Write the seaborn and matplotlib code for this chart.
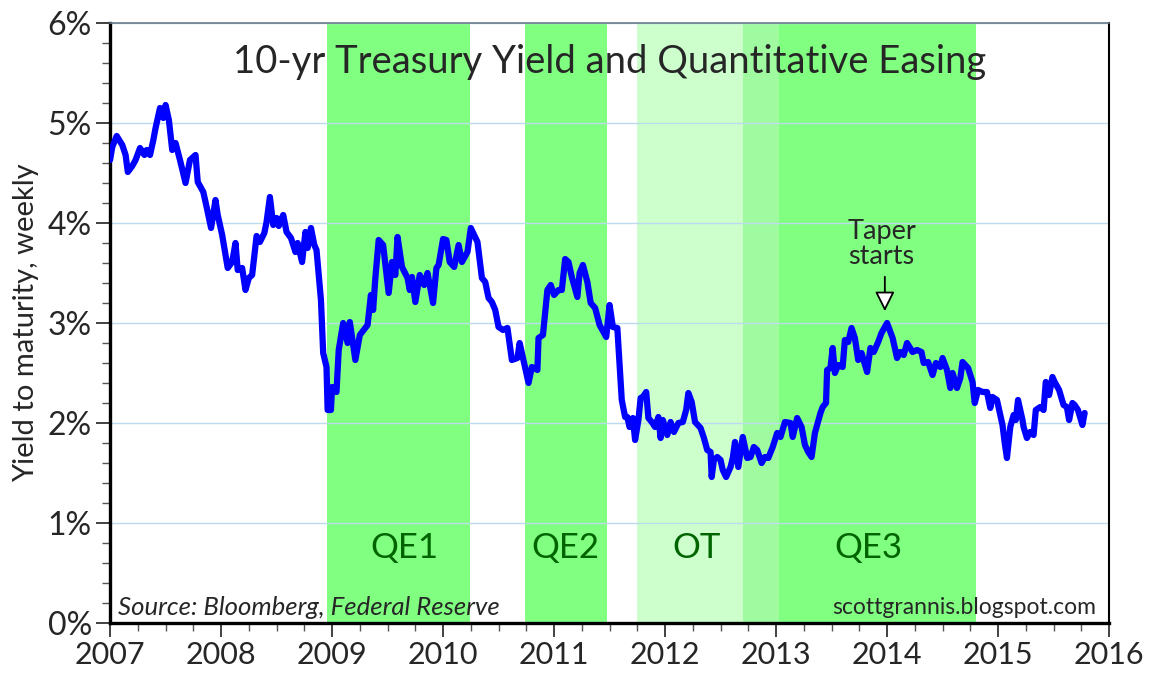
import numpy as np
import pandas as pd
import matplotlib
matplotlib.use("Agg")
import matplotlib.pyplot as plt
import seaborn as sns
from matplotlib.ticker import MultipleLocator, FuncFormatter

# weekly 10-yr yield (decimal year, %)
years = [
    2007.00, 2007.02, 2007.06, 2007.11, 2007.14, 2007.16, 2007.20, 2007.23, 2007.27, 2007.31,
    2007.33, 2007.36, 2007.39, 2007.41, 2007.45, 2007.48, 2007.50, 2007.53, 2007.56, 2007.59,
    2007.63, 2007.68, 2007.72, 2007.77, 2007.79, 2007.84, 2007.87, 2007.91, 2007.95, 2007.97,
    2008.01, 2008.06, 2008.10, 2008.13, 2008.15, 2008.19, 2008.22, 2008.25, 2008.28, 2008.32,
    2008.35, 2008.39, 2008.41, 2008.44, 2008.47, 2008.50, 2008.52, 2008.56, 2008.59, 2008.63,
    2008.67, 2008.69, 2008.73, 2008.76, 2008.78, 2008.81, 2008.84, 2008.86, 2008.90, 2008.92,
    2008.95, 2008.96, 2008.99, 2009.00, 2009.04, 2009.06, 2009.10, 2009.14, 2009.16, 2009.21,
    2009.25, 2009.32, 2009.35, 2009.37, 2009.39, 2009.42, 2009.46, 2009.51, 2009.54, 2009.57,
    2009.59, 2009.63, 2009.68, 2009.70, 2009.72, 2009.75, 2009.79, 2009.83, 2009.86, 2009.91,
    2009.94, 2009.96, 2010.00, 2010.03, 2010.06, 2010.10, 2010.14, 2010.17, 2010.22, 2010.25,
    2010.31, 2010.35, 2010.38, 2010.41, 2010.44, 2010.47, 2010.50, 2010.54, 2010.58, 2010.62,
    2010.67, 2010.69, 2010.73, 2010.77, 2010.80, 2010.85, 2010.86, 2010.90, 2010.94, 2010.97,
    2011.00, 2011.04, 2011.07, 2011.10, 2011.13, 2011.16, 2011.21, 2011.23, 2011.26, 2011.30,
    2011.33, 2011.37, 2011.41, 2011.47, 2011.50, 2011.53, 2011.57, 2011.61, 2011.64, 2011.66,
    2011.68, 2011.71, 2011.73, 2011.76, 2011.78, 2011.80, 2011.83, 2011.85, 2011.88, 2011.91,
    2011.94, 2011.96, 2011.98, 2012.02, 2012.05, 2012.08, 2012.12, 2012.16, 2012.19, 2012.21,
    2012.24, 2012.27, 2012.32, 2012.35, 2012.38, 2012.41, 2012.42, 2012.44, 2012.47, 2012.50,
    2012.52, 2012.55, 2012.59, 2012.61, 2012.63, 2012.66, 2012.70, 2012.74, 2012.77, 2012.80,
    2012.83, 2012.87, 2012.90, 2012.93, 2012.97, 2013.01, 2013.04, 2013.08, 2013.13, 2013.15,
    2013.19, 2013.23, 2013.26, 2013.29, 2013.32, 2013.35, 2013.40, 2013.42, 2013.45, 2013.46,
    2013.49, 2013.51, 2013.53, 2013.56, 2013.60, 2013.62, 2013.65, 2013.68, 2013.71, 2013.74,
    2013.77, 2013.82, 2013.85, 2013.88, 2013.92, 2013.95, 2014.00, 2014.05, 2014.09, 2014.12,
    2014.15, 2014.18, 2014.23, 2014.27, 2014.31, 2014.33, 2014.37, 2014.41, 2014.44, 2014.48,
    2014.50, 2014.54, 2014.57, 2014.59, 2014.63, 2014.66, 2014.68, 2014.73, 2014.77, 2014.79,
    2014.82, 2014.86, 2014.90, 2014.93, 2014.95, 2014.99, 2015.01, 2015.04, 2015.06, 2015.08,
    2015.11, 2015.14, 2015.16, 2015.18, 2015.22, 2015.23, 2015.26, 2015.29, 2015.32, 2015.34,
    2015.38, 2015.41, 2015.43, 2015.46, 2015.49, 2015.51, 2015.55, 2015.59, 2015.62, 2015.64,
    2015.67, 2015.69, 2015.72, 2015.76, 2015.78,
]
yields = [
    4.63, 4.76, 4.87, 4.78, 4.68, 4.51, 4.57, 4.63, 4.75, 4.68,
    4.73, 4.68, 4.83, 4.95, 5.15, 5.05, 5.18, 5.03, 4.73, 4.80,
    4.63, 4.40, 4.63, 4.68, 4.41, 4.31, 4.16, 3.95, 4.23, 4.08,
    3.88, 3.55, 3.61, 3.80, 3.53, 3.55, 3.33, 3.45, 3.48, 3.87,
    3.81, 3.90, 4.01, 4.26, 3.98, 4.05, 3.97, 4.08, 3.91, 3.85,
    3.71, 3.80, 3.61, 3.91, 3.75, 3.95, 3.78, 3.73, 3.23, 2.70,
    2.56, 2.13, 2.13, 2.36, 2.31, 2.73, 3.00, 2.80, 3.01, 2.63,
    2.88, 2.98, 3.28, 3.13, 3.45, 3.83, 3.78, 3.30, 3.61, 3.48,
    3.86, 3.56, 3.45, 3.33, 3.46, 3.21, 3.48, 3.38, 3.50, 3.20,
    3.55, 3.58, 3.84, 3.83, 3.61, 3.56, 3.78, 3.61, 3.71, 3.95,
    3.81, 3.45, 3.41, 3.25, 3.21, 3.13, 2.96, 2.93, 2.95, 2.63,
    2.65, 2.80, 2.60, 2.40, 2.56, 2.53, 2.85, 2.88, 3.33, 3.38,
    3.28, 3.33, 3.33, 3.64, 3.61, 3.46, 3.26, 3.50, 3.58, 3.41,
    3.20, 3.15, 2.98, 2.86, 3.18, 2.96, 2.95, 2.23, 2.06, 2.06,
    1.96, 2.05, 1.83, 2.03, 2.25, 2.26, 2.31, 2.05, 2.01, 1.96,
    2.06, 1.85, 2.03, 1.88, 2.01, 1.91, 2.00, 2.01, 2.13, 2.30,
    2.21, 2.01, 1.95, 1.85, 1.73, 1.71, 1.46, 1.63, 1.66, 1.63,
    1.53, 1.46, 1.56, 1.65, 1.81, 1.56, 1.86, 1.65, 1.66, 1.76,
    1.73, 1.60, 1.66, 1.65, 1.76, 1.90, 1.86, 2.01, 2.00, 1.86,
    2.05, 1.96, 1.78, 1.71, 1.66, 1.90, 2.10, 2.16, 2.20, 2.53,
    2.55, 2.75, 2.50, 2.58, 2.56, 2.83, 2.81, 2.95, 2.85, 2.63,
    2.70, 2.51, 2.75, 2.71, 2.81, 2.90, 3.00, 2.85, 2.65, 2.71,
    2.68, 2.80, 2.71, 2.73, 2.71, 2.60, 2.61, 2.48, 2.60, 2.56,
    2.65, 2.53, 2.35, 2.50, 2.35, 2.45, 2.61, 2.55, 2.41, 2.20,
    2.33, 2.31, 2.31, 2.15, 2.26, 2.23, 2.13, 1.98, 1.80, 1.65,
    1.96, 2.08, 2.03, 2.23, 2.03, 1.96, 1.85, 1.91, 1.88, 2.13,
    2.16, 2.13, 2.41, 2.28, 2.46, 2.41, 2.33, 2.18, 2.16, 2.03,
    2.20, 2.18, 2.13, 1.98, 2.10,
]

# shaded policy periods (start, end, label, colour)
period_starts = [2008.95, 2010.74, 2011.75, 2012.70, 2013.03]
period_ends = [2010.24, 2011.48, 2012.70, 2013.03, 2014.80]
period_colors = ["#80FF80", "#80FF80", "#CCFFCC", "#A0FBA0", "#80FF80"]
period_labels = ["QE1", "QE2", "OT", "QE3"]
label_x = [2009.65, 2011.10, 2012.28, 2013.83]

taper_x = 2013.98
year_ticks = list(range(2007, 2017))

df = pd.DataFrame({"year": years, "yield": yields})

sns.set_style("white")
plt.rcParams["font.family"] = ["Lato", "DejaVu Sans"]

fig = plt.figure(figsize=(11.5, 6.82), dpi=100)
ax = fig.add_axes([0.0957, 0.0865, 0.8687, 0.8798])

for s, e, c in zip(period_starts, period_ends, period_colors):
    ax.axvspan(s, e, color=c, lw=0, zorder=0)

ax.yaxis.grid(True, color="#BCDCEE", lw=1.0, zorder=0.5)
ax.xaxis.grid(False)

sns.lineplot(data=df, x="year", y="yield", color="#0000FF", lw=4.5,
             estimator=None, ax=ax, zorder=3)
ax.lines[-1].set_solid_joinstyle("round")

ax.set_xlim(2007, 2016)
ax.set_ylim(0, 6)
ax.set_xticks(year_ticks)
ax.xaxis.set_minor_locator(MultipleLocator(0.25))
ax.yaxis.set_major_locator(MultipleLocator(1))
ax.yaxis.set_minor_locator(MultipleLocator(0.2))
ax.yaxis.set_major_formatter(FuncFormatter(lambda v, p: f"{v:.0f}%"))
ax.tick_params(axis="both", which="major", labelsize=22, direction="out",
               length=10, width=1.3, color="#333333", pad=3)
ax.tick_params(axis="y", which="major", labelsize=23)
ax.tick_params(axis="both", which="minor", direction="out", length=6,
               width=1.0, color="#555555")
ax.tick_params(axis="x", which="both", bottom=True)
ax.tick_params(axis="y", which="both", left=True)

ax.set_xlabel("")
ax.set_ylabel("Yield to maturity, weekly", fontsize=21, labelpad=6)

for side in ["left", "bottom"]:
    ax.spines[side].set_linewidth(2.4)
    ax.spines[side].set_color("black")
ax.spines["right"].set_linewidth(1.5)
ax.spines["right"].set_color("black")
ax.spines["top"].set_linewidth(1.2)
ax.spines["top"].set_color("#6A7A88")

ax.text(0.5, 0.935, "10-yr Treasury Yield and Quantitative Easing",
        transform=ax.transAxes, ha="center", va="center", fontsize=27.5)

for lx, lab in zip(label_x, period_labels):
    ax.text(lx, 0.75, lab, ha="center", va="center", fontsize=25,
            color="#006400")

ax.text(2007.07, 0.16, "Source: Bloomberg, Federal Reserve", ha="left",
        va="center", fontsize=18.5, style="italic")
ax.text(2015.88, 0.16, "scottgrannis.blogspot.com", ha="right",
        va="center", fontsize=16.5)

ax.text(taper_x - 0.03, 3.54, "Taper\nstarts", ha="center", va="bottom",
        fontsize=19.5, linespacing=1.0)
ax.annotate("", xy=(taper_x, 3.09), xytext=(taper_x, 3.49),
            arrowprops=dict(arrowstyle="-|>", fc="white", ec="black",
                            lw=1.3, mutation_scale=30))

fig.savefig("out.png", dpi=100)
